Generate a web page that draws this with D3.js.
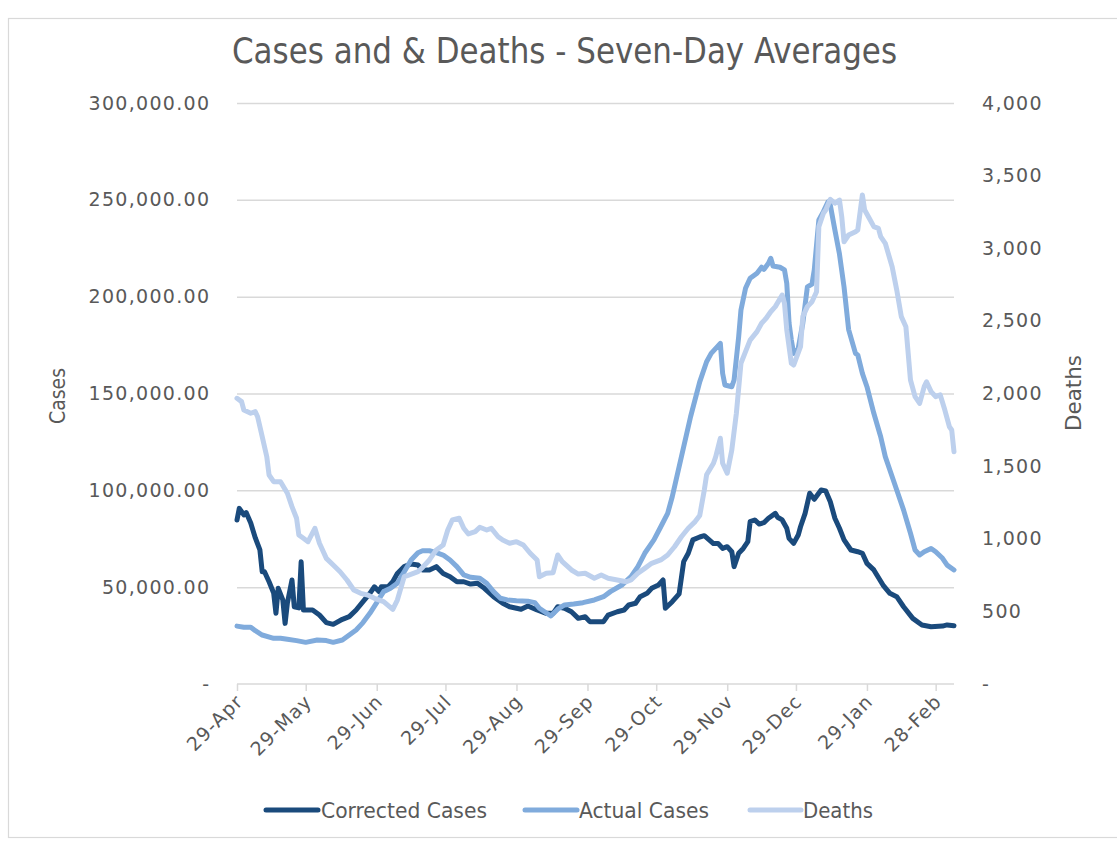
<!DOCTYPE html>
<html><head><meta charset="utf-8">
<script src="https://cdn.jsdelivr.net/npm/d3@7"></script>
<style>body{margin:0;background:#fff}svg{display:block}</style>
</head><body>
<svg id="chart" width="1117" height="844"></svg>
<script>
// ---------- DATA ----------
const correctedCases = [
["2020-04-29",84700],["2020-04-30",90700],["2020-05-02",87300],["2020-05-03",88500],["2020-05-05",83100],
["2020-05-07",75400],["2020-05-09",69200],["2020-05-10",58000],["2020-05-11",58000],["2020-05-13",52800],
["2020-05-15",47000],["2020-05-16",36500],["2020-05-17",49400],["2020-05-19",43400],["2020-05-20",31300],
["2020-05-21",41800],["2020-05-23",53700],["2020-05-24",39900],["2020-05-26",39300],["2020-05-27",63100],
["2020-05-28",38200],["2020-06-01",38200],["2020-06-04",35600],["2020-06-07",31700],["2020-06-10",30800],
["2020-06-14",33400],["2020-06-17",34800],["2020-06-20",38200],["2020-06-23",42500],["2020-06-26",46800],
["2020-06-28",50200],["2020-06-30",47700],["2020-07-01",50200],["2020-07-04",50200],["2020-07-06",52800],
["2020-07-08",57100],["2020-07-11",60600],["2020-07-14",62000],["2020-07-17",61400],["2020-07-19",58900],
["2020-07-22",58900],["2020-07-25",60600],["2020-07-28",57100],["2020-07-31",55400],["2020-08-03",52800],
["2020-08-06",52800],["2020-08-09",51600],["2020-08-12",52000],["2020-08-15",49400],["2020-08-19",45100],
["2020-08-23",41700],["2020-08-26",39900],["2020-08-31",38600],["2020-09-03",40300],["2020-09-07",38200],
["2020-09-11",36500],["2020-09-14",36500],["2020-09-16",39900],["2020-09-19",39100],["2020-09-22",37300],
["2020-09-25",33900],["2020-09-28",34700],["2020-09-30",32200],["2020-10-03",32200],["2020-10-06",32200],
["2020-10-08",35600],["2020-10-12",37300],["2020-10-15",38200],["2020-10-17",40800],["2020-10-20",41700],
["2020-10-22",45100],["2020-10-25",46800],["2020-10-27",49400],["2020-10-30",51100],["2020-11-01",53700],
["2020-11-02",39100],["2020-11-05",42500],["2020-11-08",46500],["2020-11-10",63200],["2020-11-12",67500],
["2020-11-14",74400],["2020-11-17",75900],["2020-11-19",76600],["2020-11-23",72500],["2020-11-25",72600],
["2020-11-27",70000],["2020-11-29",70900],["2020-12-01",68300],["2020-12-02",60600],["2020-12-04",67500],
["2020-12-06",70000],["2020-12-08",73500],["2020-12-09",83800],["2020-12-11",84700],["2020-12-13",82600],
["2020-12-15",83300],["2020-12-17",85600],["2020-12-20",88100],["2020-12-21",86100],["2020-12-23",84700],
["2020-12-25",80400],["2020-12-26",75200],["2020-12-28",72600],["2020-12-30",76900],["2020-12-31",81200],
["2021-01-02",88100],["2021-01-04",98500],["2021-01-06",95400],["2021-01-09",100200],["2021-01-11",99700],
["2021-01-13",94100],["2021-01-15",85600],["2021-01-17",80400],["2021-01-19",74400],["2021-01-22",69200],
["2021-01-25",68300],["2021-01-27",67500],["2021-01-29",62300],["2021-02-01",58900],["2021-02-05",51100],
["2021-02-08",46800],["2021-02-11",45100],["2021-02-14",39900],["2021-02-18",33900],["2021-02-22",30500],
["2021-02-26",29600],["2021-03-03",29900],["2021-03-05",30500],["2021-03-08",30100]
];
const actualCases = [
["2020-04-29",29900],["2020-05-02",29300],["2020-05-05",29300],["2020-05-07",27500],["2020-05-10",25300],
["2020-05-15",23600],["2020-05-18",23600],["2020-05-21",23100],["2020-05-25",22400],["2020-05-29",21500],
["2020-06-03",22700],["2020-06-07",22400],["2020-06-10",21500],["2020-06-14",22700],["2020-06-17",25300],
["2020-06-20",27900],["2020-06-23",31700],["2020-06-26",36500],["2020-06-29",42000],["2020-07-02",47700],
["2020-07-05",49400],["2020-07-08",52000],["2020-07-11",58000],["2020-07-14",64000],["2020-07-17",67800],
["2020-07-19",68800],["2020-07-22",68800],["2020-07-25",67800],["2020-07-28",66600],["2020-07-31",64000],
["2020-08-03",60600],["2020-08-06",56300],["2020-08-09",55100],["2020-08-13",54600],["2020-08-16",52000],
["2020-08-19",47700],["2020-08-22",44300],["2020-08-25",43400],["2020-08-29",43000],["2020-09-03",42700],
["2020-09-06",42000],["2020-09-08",39100],["2020-09-13",35100],["2020-09-16",38600],["2020-09-19",40800],
["2020-09-23",41300],["2020-09-27",42000],["2020-10-02",43400],["2020-10-06",45100],["2020-10-09",47700],
["2020-10-14",51100],["2020-10-18",55400],["2020-10-21",60600],["2020-10-24",67500],["2020-10-28",74400],
["2020-10-31",81200],["2020-11-03",88100],["2020-11-05",96700],["2020-11-07",107000],["2020-11-10",122500],
["2020-11-13",138000],["2020-11-17",156000],["2020-11-20",166400],["2020-11-22",170700],["2020-11-24",173300],
["2020-11-26",175900],["2020-11-27",160400],["2020-11-28",154400],["2020-12-01",153500],["2020-12-02",157000],
["2020-12-04",179300],["2020-12-05",193100],["2020-12-07",204300],["2020-12-09",209500],["2020-12-12",212100],
["2020-12-14",215200],["2020-12-15",214100],["2020-12-17",217200],["2020-12-18",219800],["2020-12-19",215800],
["2020-12-22",215200],["2020-12-24",213800],["2020-12-25",206900],["2020-12-26",186300],["2020-12-27",177600],
["2020-12-28",170700],["2020-12-30",173300],["2021-01-01",186300],["2021-01-03",205100],["2021-01-05",206500],
["2021-01-06",213800],["2021-01-08",239600],["2021-01-10",243900],["2021-01-12",249000],["2021-01-13",247300],
["2021-01-15",234400],["2021-01-17",222000],["2021-01-19",205000],["2021-01-21",183000],["2021-01-24",170700],
["2021-01-25",169900],["2021-01-27",160400],["2021-01-29",153500],["2021-02-01",139800],["2021-02-04",127700],
["2021-02-06",117400],["2021-02-08",110500],["2021-02-11",100200],["2021-02-14",89800],["2021-02-17",77800],
["2021-02-19",69200],["2021-02-21",66600],["2021-02-23",68300],["2021-02-26",70000],["2021-02-28",68300],
["2021-03-03",64900],["2021-03-05",61400],["2021-03-08",58900]
];
const deaths = [
["2020-04-29",1967],["2020-05-01",1944],["2020-05-02",1886],["2020-05-05",1864],["2020-05-07",1875],
["2020-05-08",1840],["2020-05-10",1703],["2020-05-12",1565],["2020-05-13",1439],["2020-05-15",1393],
["2020-05-18",1393],["2020-05-21",1313],["2020-05-23",1221],["2020-05-25",1141],["2020-05-26",1026],
["2020-05-28",1003],["2020-05-30",980],["2020-06-02",1072],["2020-06-04",969],["2020-06-07",865],
["2020-06-10",819],["2020-06-13",773],["2020-06-16",716],["2020-06-19",647],["2020-06-22",624],
["2020-06-25",613],["2020-06-28",590],["2020-07-02",567],["2020-07-06",514],["2020-07-08",578],
["2020-07-11",739],["2020-07-13",750],["2020-07-17",773],["2020-07-19",803],["2020-07-22",854],
["2020-07-25",923],["2020-07-28",957],["2020-07-30",1060],["2020-08-01",1129],["2020-08-04",1141],
["2020-08-06",1072],["2020-08-08",1033],["2020-08-11",1049],["2020-08-13",1079],["2020-08-16",1060],
["2020-08-18",1072],["2020-08-21",1014],["2020-08-23",991],["2020-08-26",969],["2020-08-29",980],
["2020-09-01",957],["2020-09-04",900],["2020-09-07",854],["2020-09-08",739],["2020-09-11",762],
["2020-09-14",766],["2020-09-16",888],["2020-09-18",842],["2020-09-22",785],["2020-09-25",757],
["2020-09-28",762],["2020-10-02",728],["2020-10-05",750],["2020-10-08",728],["2020-10-12",716],
["2020-10-16",704],["2020-10-18",716],["2020-10-21",762],["2020-10-24",796],["2020-10-27",831],
["2020-10-31",854],["2020-11-03",888],["2020-11-06",945],["2020-11-09",1014],["2020-11-12",1072],
["2020-11-15",1118],["2020-11-17",1160],["2020-11-19",1336],["2020-11-20",1440],["2020-11-23",1520],
["2020-11-24",1565],["2020-11-26",1692],["2020-11-27",1520],["2020-11-29",1451],["2020-12-01",1611],
["2020-12-03",1864],["2020-12-05",2208],["2020-12-07",2288],["2020-12-09",2368],["2020-12-12",2426],
["2020-12-14",2484],["2020-12-16",2518],["2020-12-18",2563],["2020-12-20",2598],["2020-12-23",2678],
["2020-12-24",2621],["2020-12-25",2437],["2020-12-27",2208],["2020-12-28",2196],["2020-12-31",2322],
["2021-01-01",2529],["2021-01-03",2598],["2021-01-05",2632],["2021-01-07",2701],["2021-01-08",3149],
["2021-01-10",3241],["2021-01-11",3263],["2021-01-13",3337],["2021-01-15",3310],["2021-01-17",3332],
["2021-01-18",3217],["2021-01-19",3045],["2021-01-21",3091],["2021-01-24",3114],["2021-01-25",3126],
["2021-01-27",3367],["2021-01-28",3263],["2021-01-30",3206],["2021-02-01",3149],["2021-02-03",3137],
["2021-02-04",3080],["2021-02-06",3034],["2021-02-09",2873],["2021-02-11",2713],["2021-02-13",2529],
["2021-02-15",2460],["2021-02-17",2093],["2021-02-19",1978],["2021-02-21",1932],["2021-02-23",2047],
["2021-02-24",2081],["2021-02-26",2013],["2021-02-28",1978],["2021-03-02",1990],["2021-03-04",1886],
["2021-03-06",1771],["2021-03-07",1749],["2021-03-08",1599]
];
const leftTickValues = [0, 50000, 100000, 150000, 200000, 250000, 300000];
const leftTickLabels = ["-", "50,000.00", "100,000.00", "150,000.00", "200,000.00", "250,000.00", "300,000.00"];
const rightTickValues = [0, 500, 1000, 1500, 2000, 2500, 3000, 3500, 4000];
const rightTickLabels = ["-", "500", "1,000", "1,500", "2,000", "2,500", "3,000", "3,500", "4,000"];
const xTickDates = ["2020-04-29","2020-05-29","2020-06-29","2020-07-29","2020-08-29","2020-09-29",
                    "2020-10-29","2020-11-29","2020-12-29","2021-01-29","2021-02-28"];
const xTickLabels = ["29-Apr","29-May","29-Jun","29-Jul","29-Aug","29-Sep","29-Oct","29-Nov","29-Dec","29-Jan","28-Feb"];
const seriesNames = ["Corrected Cases", "Actual Cases", "Deaths"];
const xDomain = ["2020-04-29", "2021-03-08"];
const titleText = "Cases and & Deaths - Seven-Day Averages";

// ---------- DRAW ----------
const parse = d3.utcParse("%Y-%m-%d");
const svg = d3.select("#chart");
const W = 1117, H = 844;
const m = {left: 237, right: 954, top: 103, bottom: 684};
const textColor = "#595959";
const gridColor = "#d9d9d9";
const colors = ["#1a4a7c", "#80abdc", "#bdd0ed"];
const tickFont = "'DejaVu Sans', Verdana, sans-serif";
const narrowFont = "'Liberation Sans Narrow', 'DejaVu Sans Condensed', 'Arial Narrow', sans-serif";

svg.append("rect").attr("width", W).attr("height", H).attr("fill", "#fff");
svg.append("rect").attr("x", 8.5).attr("y", 18.5).attr("width", 1130).attr("height", 819)
  .attr("fill", "none").attr("stroke", gridColor).attr("stroke-width", 1.2);

const x = d3.scaleUtc().domain(xDomain.map(parse)).range([m.left, m.right]);
const yL = d3.scaleLinear().domain([0, 300000]).range([m.bottom, m.top]);
const yR = d3.scaleLinear().domain([0, 4000]).range([m.bottom, m.top]);

// gridlines
const grid = svg.append("g").attr("transform", `translate(${m.left},0)`)
  .call(d3.axisLeft(yL).tickValues(leftTickValues.filter(v => v > 0)).tickSize(-(m.right - m.left)).tickFormat(""));
grid.select(".domain").remove();
grid.selectAll("line").attr("stroke", gridColor).attr("stroke-width", 1.5);

// left axis labels
const gl = svg.append("g").attr("transform", `translate(${m.left - 28},0)`)
  .call(d3.axisLeft(yL).tickValues(leftTickValues).tickSize(0).tickPadding(0)
    .tickFormat((d, i) => leftTickLabels[i]));
gl.select(".domain").remove();
gl.selectAll("text").attr("font-family", tickFont).attr("font-size", 19).attr("fill", textColor)
  .attr("letter-spacing", "1.3px").attr("dx", "1.3");

// right axis labels
const gr = svg.append("g").attr("transform", `translate(${m.right + 28},0)`)
  .call(d3.axisRight(yR).tickValues(rightTickValues).tickSize(0).tickPadding(0)
    .tickFormat((d, i) => rightTickLabels[i]));
gr.select(".domain").remove();
gr.selectAll("text").attr("font-family", tickFont).attr("font-size", 19).attr("fill", textColor)
  .attr("letter-spacing", "1.3px");

// bottom axis
const gx = svg.append("g").attr("transform", `translate(0,${m.bottom})`)
  .call(d3.axisBottom(x).tickValues(xTickDates.map(parse)).tickSize(7)
    .tickFormat((d, i) => xTickLabels[i]));
gx.select(".domain").attr("stroke", gridColor).attr("stroke-width", 1.5)
  .attr("d", `M${m.left},0H${m.right}`);
gx.selectAll(".tick line").attr("stroke", gridColor).attr("stroke-width", 1.5);
gx.selectAll(".tick text").attr("font-family", tickFont).attr("font-size", 19).attr("fill", textColor)
  .attr("letter-spacing", "1.1px")
  .attr("text-anchor", "end").attr("x", 0).attr("y", 0).attr("dy", "0.35em")
  .attr("transform", "translate(2,14) rotate(-45)");

// lines
const seriesData = [
  {name: seriesNames[0], data: correctedCases, y: yL, color: colors[0]},
  {name: seriesNames[1], data: actualCases, y: yL, color: colors[1]},
  {name: seriesNames[2], data: deaths, y: yR, color: colors[2]}
];
seriesData.forEach(s => {
  const line = d3.line().x(d => x(parse(d[0]))).y(d => s.y(d[1]));
  svg.append("path").datum(s.data).attr("d", line)
    .attr("fill", "none").attr("stroke", s.color).attr("stroke-width", 5)
    .attr("stroke-linejoin", "round").attr("stroke-linecap", "round");
});

// title
svg.append("text").attr("x", 564.5).attr("y", 63).attr("text-anchor", "middle")
  .attr("font-family", narrowFont).attr("font-size", 35).attr("fill", textColor)
  .attr("textLength", 665).attr("lengthAdjust", "spacingAndGlyphs").text(titleText);

// axis titles
svg.append("text").attr("transform", "translate(57,396) rotate(-90)").attr("text-anchor", "middle")
  .attr("dy", "0.35em").attr("font-family", narrowFont).attr("font-size", 22).attr("fill", textColor)
  .attr("textLength", 56).attr("lengthAdjust", "spacingAndGlyphs").text("Cases");
svg.append("text").attr("transform", "translate(1073,393) rotate(-90)").attr("text-anchor", "middle")
  .attr("dy", "0.35em").attr("font-family", narrowFont).attr("font-size", 22).attr("fill", textColor)
  .attr("textLength", 76).attr("lengthAdjust", "spacingAndGlyphs").text("Deaths");

// legend
const legendItems = [
  {x1: 266, x2: 318, tx: 321, tl: 166},
  {x1: 525, x2: 577, tx: 579, tl: 130},
  {x1: 750, x2: 801, tx: 803, tl: 70}
];
const lg = svg.append("g");
legendItems.forEach((it, i) => {
  lg.append("line").attr("x1", it.x1).attr("x2", it.x2).attr("y1", 810).attr("y2", 810)
    .attr("stroke", colors[i]).attr("stroke-width", 5).attr("stroke-linecap", "round");
  lg.append("text").attr("x", it.tx).attr("y", 810).attr("dy", "0.35em")
    .attr("font-family", narrowFont).attr("font-size", 22).attr("fill", textColor)
    .attr("textLength", it.tl).attr("lengthAdjust", "spacingAndGlyphs").text(seriesNames[i]);
});
</script>
</body></html>
